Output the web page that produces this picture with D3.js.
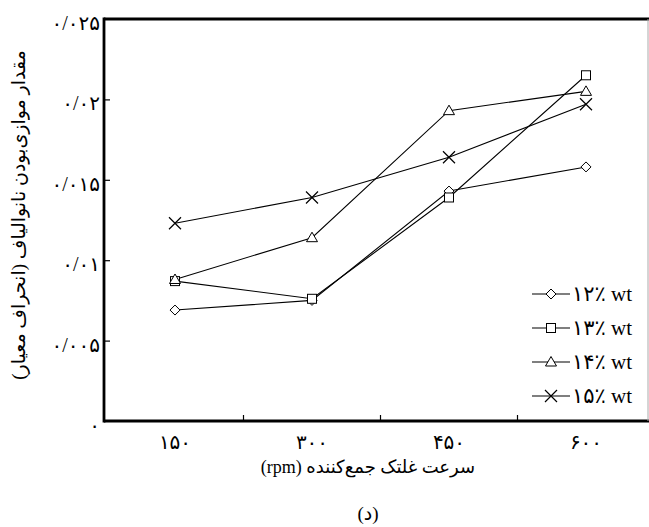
<!DOCTYPE html>
<html>
<head>
<meta charset="utf-8">
<script src="https://cdn.jsdelivr.net/npm/d3@7"></script>
<style>
  html, body { margin: 0; padding: 0; background: #fff; }
  svg { display: block; }
  text { font-family: "Liberation Serif", "DejaVu Sans", serif; fill: #000; }
</style>
</head>
<body>
<svg id="chart" width="649" height="527"></svg>
<script>
// Roller speed categories (rpm) and their Persian labels
const speeds = [150, 300, 450, 600];
const speedLabels = ["۱۵۰", "۳۰۰", "۴۵۰", "۶۰۰"];

// Nanofiber alignment (standard deviation) per polymer concentration
const wt12 = [0.0069, 0.0075, 0.0143, 0.0158];
const wt13 = [0.0087, 0.0076, 0.0139, 0.0215];
const wt14 = [0.0088, 0.0114, 0.0193, 0.0205];
const wt15 = [0.0123, 0.0139, 0.0164, 0.0197];

const seriesNames = ["۱۲٪ wt", "۱۳٪ wt", "۱۴٪ wt", "۱۵٪ wt"];
const seriesSymbols = ["diamond", "square", "triangle", "cross"];

const yTicks = [0, 0.005, 0.01, 0.015, 0.02, 0.025];
const yTickLabels = ["۰", "۰/۰۰۵", "۰/۰۱", "۰/۰۱۵", "۰/۰۲", "۰/۰۲۵"];

const xTitle = "سرعت غلتک جمع‌کننده (rpm)";
const yTitle = "مقدار موازی‌بودن نانوالیاف (انحراف معیار)";
const panelLabel = "(د)";

const series = [wt12, wt13, wt14, wt15].map((vals, i) => ({
  name: seriesNames[i], symbol: seriesSymbols[i], values: vals
}));

const svg = d3.select("#chart");
const frame = { left: 104, top: 19, right: 648, bottom: 421 };

const x = d3.scaleBand().domain(speeds).range([106.5, 654.5]);
const y = d3.scaleLinear().domain([0, 0.025]).range([frame.bottom, frame.top]);
const cx = v => x(v) + x.bandwidth() / 2;

// Marker shapes
function marker(sel, type) {
  if (type === "diamond") {
    sel.append("path").attr("d", "M0,-5L5,0L0,5L-5,0Z")
      .attr("fill", "#fff").attr("stroke", "#000").attr("stroke-width", 1);
  } else if (type === "square") {
    sel.append("rect").attr("x", -4.5).attr("y", -4.5).attr("width", 9).attr("height", 9)
      .attr("fill", "#fff").attr("stroke", "#000").attr("stroke-width", 1);
  } else if (type === "triangle") {
    sel.append("path").attr("d", "M0,-5.5L5.5,4L-5.5,4Z")
      .attr("fill", "#fff").attr("stroke", "#000").attr("stroke-width", 1);
  } else {
    sel.append("path").attr("d", "M-6,-6L6,6M-6,6L6,-6")
      .attr("fill", "none").attr("stroke", "#000").attr("stroke-width", 1.2);
  }
}

// Series lines and markers
const line = d3.line().x((d, i) => cx(speeds[i])).y(d => y(d));
const g = svg.append("g");
series.forEach(s => {
  g.append("path").datum(s.values).attr("d", line)
    .attr("fill", "none").attr("stroke", "#000").attr("stroke-width", 1.1);
});
series.forEach(s => {
  s.values.forEach((v, i) => {
    g.append("g").attr("transform", `translate(${cx(speeds[i])},${y(v)})`).call(marker, s.symbol);
  });
});

// Frame
svg.append("line").attr("x1", frame.left).attr("x2", 649).attr("y1", frame.top).attr("y2", frame.top)
  .attr("stroke", "#000").attr("stroke-width", 2.8);
svg.append("line").attr("x1", frame.left).attr("x2", 649).attr("y1", frame.bottom).attr("y2", frame.bottom)
  .attr("stroke", "#000").attr("stroke-width", 2.8);
svg.append("line").attr("x1", frame.left).attr("x2", frame.left).attr("y1", frame.top - 1.4).attr("y2", frame.bottom + 1.4)
  .attr("stroke", "#000").attr("stroke-width", 2.8);
svg.append("line").attr("x1", frame.right).attr("x2", frame.right).attr("y1", frame.top).attr("y2", frame.bottom)
  .attr("stroke", "#aaa").attr("stroke-width", 1);

// Y axis: inward ticks, labels to the left
const yAxis = d3.axisRight(y).tickValues(yTicks.slice(1, -1)).tickSize(6).tickFormat("");
svg.append("g").attr("transform", `translate(${frame.left},0)`).call(yAxis)
  .call(a => a.select(".domain").remove())
  .call(a => a.selectAll("line").attr("stroke", "#000").attr("stroke-width", 1.2));
svg.append("g").selectAll("text").data(yTicks).join("text")
  .attr("x", 100).attr("y", d => y(d) + 4)
  .attr("dy", "0.35em").attr("text-anchor", "end")
  .attr("font-size", 20).attr("letter-spacing", 5).attr("direction", "ltr")
  .text((d, i) => yTickLabels[i]);

// X axis: inward ticks between categories, labels below
const xTickPos = speeds.slice(1).map(s => x(s));
svg.append("g").selectAll("line").data(xTickPos).join("line")
  .attr("x1", d => d).attr("x2", d => d).attr("y1", frame.bottom).attr("y2", frame.bottom - 6)
  .attr("stroke", "#000").attr("stroke-width", 1.2);
svg.append("g").selectAll("text").data(speeds).join("text")
  .attr("x", d => cx(d)).attr("y", 442).attr("dy", "0.35em")
  .attr("text-anchor", "middle").attr("font-size", 20).attr("letter-spacing", 2)
  .attr("direction", "ltr")
  .text((d, i) => speedLabels[i]);

// Axis titles
svg.append("text").attr("x", 368).attr("y", 467).attr("dy", "0.35em")
  .attr("text-anchor", "middle").attr("direction", "rtl").attr("font-size", 18)
  .text(xTitle);
svg.append("text").attr("transform", "translate(18,215) rotate(-90)")
  .attr("dy", "0.35em").attr("text-anchor", "middle").attr("direction", "rtl")
  .attr("font-size", 19).text(yTitle);
svg.append("text").attr("x", 368).attr("y", 513).attr("dy", "0.35em")
  .attr("text-anchor", "middle").attr("font-size", 19).text(panelLabel);

// Legend
const legend = svg.append("g");
series.forEach((s, i) => {
  const ly = 294 + i * 34;
  const row = legend.append("g").attr("transform", `translate(0,${ly})`);
  row.append("line").attr("x1", 532).attr("x2", 570).attr("y1", 0).attr("y2", 0)
    .attr("stroke", "#000").attr("stroke-width", 1.1);
  row.append("g").attr("transform", "translate(551,0)").call(marker, s.symbol);
  row.append("text").attr("x", 572).attr("y", 0).attr("dy", "0.35em")
    .attr("font-size", 21).attr("direction", "ltr").text(s.name);
});
</script>
</body>
</html>
